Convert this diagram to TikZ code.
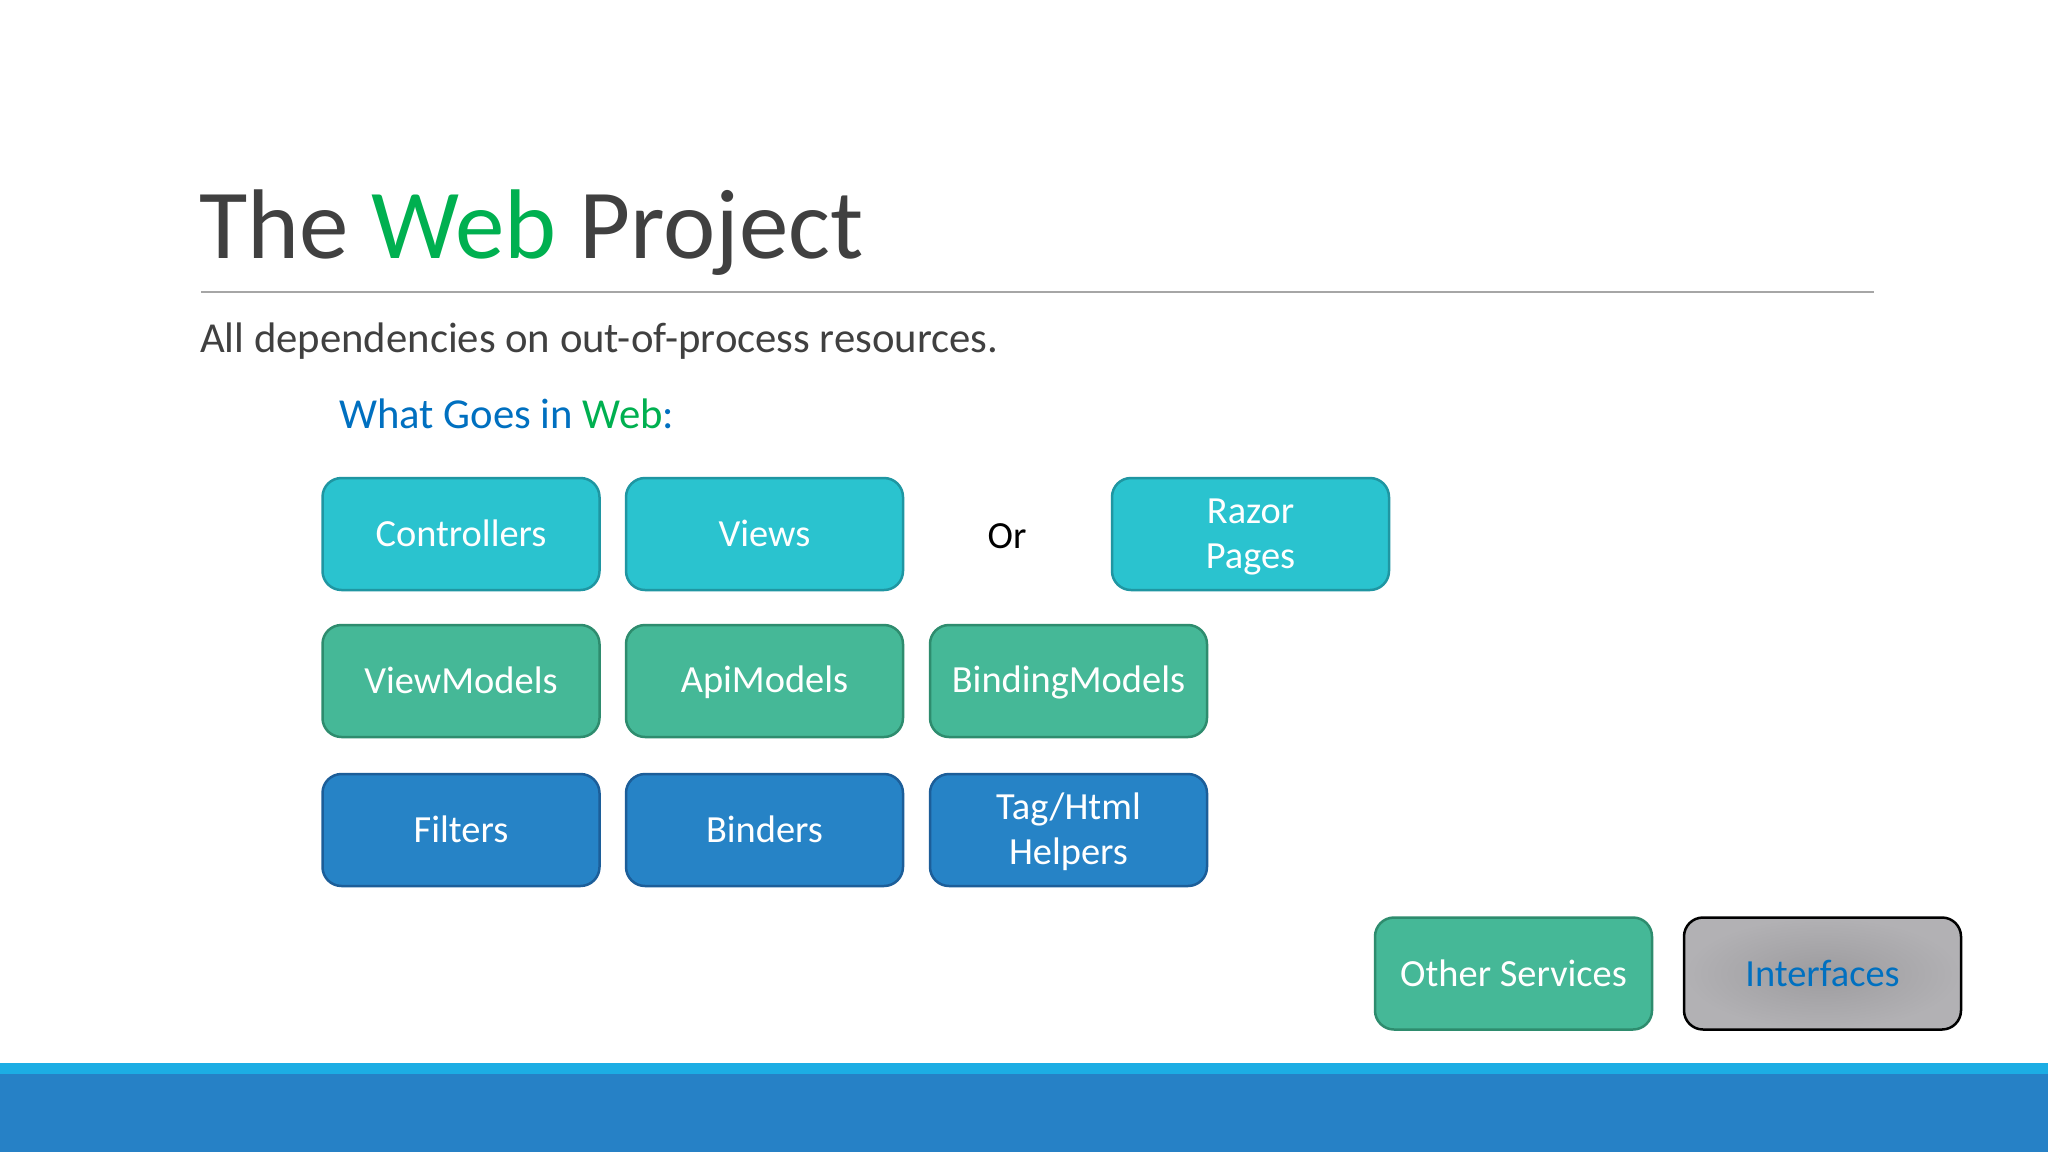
\documentclass[tikz,border=0pt]{standalone}
\usepackage{fontspec}
\setmainfont{Carlito}
\usetikzlibrary{positioning}
\definecolor{titlegray}{HTML}{404040}
\definecolor{webgreen}{HTML}{00B050}
\definecolor{webblue}{HTML}{0070C0}
\definecolor{rulegray}{HTML}{A6A6A6}
\definecolor{tealfill}{HTML}{2AC3CF}
\definecolor{tealdraw}{HTML}{1F96A2}
\definecolor{greenfill}{HTML}{45B897}
\definecolor{greendraw}{HTML}{2E8C6E}
\definecolor{bluefill}{HTML}{2683C6}
\definecolor{bluedraw}{HTML}{1C5E99}
\definecolor{barlight}{HTML}{1CADE4}
\definecolor{bardark}{HTML}{2681C6}
\definecolor{grayin}{HTML}{9D9C9F}
\definecolor{grayout}{HTML}{B2B1B4}
\newcommand{\bstrut}{\rule[-4.6pt]{0pt}{34.6pt}}
\tikzset{
  x=1pt, y=-1pt,
  boxbase/.style={rounded corners=19pt, line width=2.5pt, minimum width=277pt, minimum height=112pt,
    inner sep=0pt, align=center, text=white, font=\fontsize{38.4}{45}\selectfont},
  tealbox/.style={boxbase, fill=tealfill, draw=tealdraw},
  greenbox/.style={boxbase, fill=greenfill, draw=greendraw},
  bluebox/.style={boxbase, fill=bluefill, draw=bluedraw},
  graybox/.style={boxbase, draw=black, inner color=grayin, outer color=grayout, text=webblue},
  plaintext/.style={inner sep=0pt, anchor=base west},
}
\begin{document}
\begin{tikzpicture}
\useasboundingbox[fill=white] (0,0) rectangle (2048,1152);
% title
\node[plaintext, text=titlegray, font=\fontsize{99}{118}\selectfont] (title) at (199,258)
  {The \textcolor{webgreen}{Web} Project};
\coordinate (ruleL) at (201,291.5);
\coordinate (ruleR) at (1874,291.5);
\draw[rulegray, line width=2pt] (ruleL) -- (ruleR);
\node[plaintext, text=titlegray, font=\fontsize{42.7}{50}\selectfont] (sub) at (200,352.7)
  {All dependencies on out-of-process resources.};
\node[plaintext, text=webblue, font=\fontsize{42.7}{50}\selectfont] (what) at (339,428.5)
  {What Goes in \textcolor{webgreen}{Web}:};
% row 1
\node[tealbox] (controllers) at (461,534) {\bstrut Controllers};
\node[tealbox] (views) at (764.5,534) {\bstrut Views};
\node[inner sep=0pt, anchor=base, font=\fontsize{38.4}{45}\selectfont, text=black] (or) at (1007,548) {Or};
\node[tealbox] (razor) at (1250.5,534) {\bstrut Razor\\\bstrut Pages};
% row 2
\node[greenbox] (viewmodels) at (461,681) {\bstrut ViewModels};
\node[greenbox] (apimodels) at (764.5,681) {\bstrut ApiModels};
\node[greenbox] (bindingmodels) at (1068.5,681) {\bstrut BindingModels};
% row 3
\node[bluebox] (filters) at (461,830) {\bstrut Filters};
\node[bluebox] (binders) at (764.5,830) {\bstrut Binders};
\node[bluebox] (helpers) at (1068.5,830) {\bstrut Tag/Html\\\bstrut Helpers};
% bottom right
\node[greenbox] (other) at (1513.5,973.5) {\bstrut Other Services};
\node[graybox] (interfaces) at (1822.5,973.5) {\bstrut Interfaces};
% bottom bar
\fill[barlight] (0,1063) rectangle (2048,1074);
\fill[bardark] (0,1074) rectangle (2048,1152);
\end{tikzpicture}
\end{document}
